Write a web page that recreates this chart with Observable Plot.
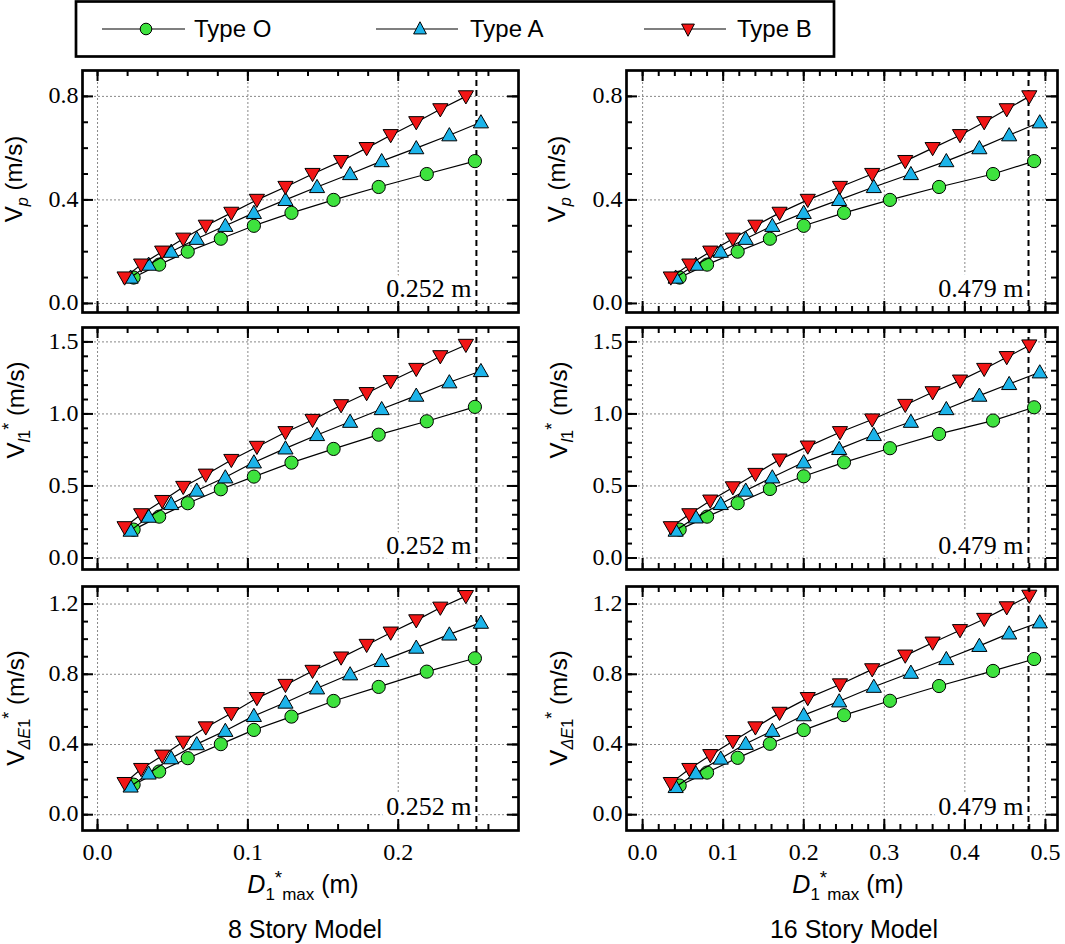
<!DOCTYPE html>
<html><head><meta charset="utf-8">
<script src="https://cdn.jsdelivr.net/npm/d3@7"></script>
<script src="https://cdn.jsdelivr.net/npm/@observablehq/plot@0.6"></script>
<style>
body{margin:0;background:#fff;}
#fig{position:relative;width:1065px;height:944px;overflow:hidden;}
#fig svg{position:absolute;background:transparent !important;}
.tt{position:absolute;white-space:nowrap;font-family:"Liberation Sans",Arial,sans-serif;font-size:24px;color:#000;line-height:1;}
.yt{transform:translate(-50%,-50%) rotate(-90deg);}
.xt{transform:translate(-50%,-50%);font-size:25px;}
.tt sub{font-size:0.68em;vertical-align:-0.4em;}
.tt sup{font-size:0.75em;vertical-align:0.5em;}
</style></head>
<body><div id="fig"></div>
<script>
// ---------- data ----------
const seriesNames = ["Type O", "Type A", "Type B"];
const seriesColors = ["#3ee23e", "#1cb4ea", "#f21616"];
const models = ["8 Story Model", "16 Story Model"];
const limitValues = [0.252, 0.479];
const limitLabels = ["0.252 m", "0.479 m"];

// 8 story: x (D1*max)
const x8O = [0.024, 0.041, 0.060, 0.082, 0.104, 0.129, 0.157, 0.187, 0.219, 0.251];
const x8A = [0.022, 0.034, 0.049, 0.066, 0.085, 0.104, 0.125, 0.146, 0.168, 0.189, 0.212, 0.234, 0.255];
const x8B = [0.018, 0.029, 0.043, 0.057, 0.072, 0.089, 0.106, 0.125, 0.143, 0.162, 0.179, 0.195, 0.212, 0.228, 0.245];
// 8 story: Vp
const vp8O = [0.10, 0.15, 0.20, 0.25, 0.30, 0.35, 0.40, 0.45, 0.50, 0.55];
const vp8A = [0.10, 0.15, 0.20, 0.25, 0.30, 0.35, 0.40, 0.45, 0.50, 0.55, 0.60, 0.65, 0.70];
const vp8B = [0.10, 0.15, 0.20, 0.25, 0.30, 0.35, 0.40, 0.45, 0.50, 0.55, 0.60, 0.65, 0.70, 0.75, 0.80];
// 8 story: Vl1*
const vl8O = [0.197, 0.287, 0.380, 0.477, 0.565, 0.662, 0.757, 0.856, 0.949, 1.049];
const vl8A = [0.190, 0.287, 0.375, 0.468, 0.560, 0.664, 0.761, 0.854, 0.946, 1.034, 1.127, 1.220, 1.298];
const vl8B = [0.213, 0.303, 0.395, 0.493, 0.578, 0.680, 0.771, 0.873, 0.958, 1.060, 1.144, 1.227, 1.312, 1.400, 1.479];
// 8 story: VdE1*
const ve8O = [0.171, 0.246, 0.322, 0.402, 0.483, 0.559, 0.648, 0.728, 0.815, 0.891];
const ve8A = [0.161, 0.235, 0.322, 0.402, 0.478, 0.563, 0.639, 0.720, 0.800, 0.876, 0.952, 1.027, 1.094];
const ve8B = [0.180, 0.260, 0.336, 0.415, 0.497, 0.578, 0.664, 0.739, 0.819, 0.895, 0.967, 1.037, 1.107, 1.179, 1.245];

// 16 story: x
const x16O = [0.046, 0.080, 0.118, 0.158, 0.200, 0.250, 0.307, 0.368, 0.435, 0.486];
const x16A = [0.041, 0.066, 0.097, 0.128, 0.161, 0.200, 0.244, 0.287, 0.333, 0.377, 0.418, 0.455, 0.493];
const x16B = [0.035, 0.058, 0.084, 0.112, 0.140, 0.170, 0.205, 0.245, 0.285, 0.326, 0.360, 0.394, 0.424, 0.452, 0.480];
// 16 story: Vp
const vp16O = [0.10, 0.15, 0.20, 0.25, 0.30, 0.35, 0.40, 0.45, 0.50, 0.55];
const vp16A = [0.10, 0.15, 0.20, 0.25, 0.30, 0.35, 0.40, 0.45, 0.50, 0.55, 0.60, 0.65, 0.70];
const vp16B = [0.10, 0.15, 0.20, 0.25, 0.30, 0.35, 0.40, 0.45, 0.50, 0.55, 0.60, 0.65, 0.70, 0.75, 0.80];
// 16 story: Vl1*
const vl16O = [0.197, 0.287, 0.380, 0.479, 0.567, 0.664, 0.762, 0.861, 0.954, 1.046];
const vl16A = [0.190, 0.282, 0.375, 0.468, 0.560, 0.664, 0.757, 0.854, 0.946, 1.034, 1.127, 1.208, 1.289];
const vl16B = [0.213, 0.303, 0.398, 0.490, 0.583, 0.683, 0.773, 0.873, 0.961, 1.062, 1.150, 1.231, 1.312, 1.394, 1.475];
// 16 story: VdE1*
const ve16O = [0.166, 0.240, 0.324, 0.404, 0.482, 0.567, 0.649, 0.733, 0.819, 0.887];
const ve16A = [0.158, 0.236, 0.320, 0.404, 0.478, 0.567, 0.646, 0.729, 0.809, 0.887, 0.962, 1.033, 1.096];
const ve16B = [0.180, 0.260, 0.339, 0.419, 0.497, 0.580, 0.664, 0.742, 0.828, 0.906, 0.980, 1.051, 1.115, 1.181, 1.247];

// ticks
const xMajor8 = [0.0, 0.1, 0.2];
const xMajor16 = [0.0, 0.1, 0.2, 0.3, 0.4, 0.5];
const yMajorVp = [0.0, 0.4, 0.8];
const yMajorVl = [0.0, 0.5, 1.0, 1.5];
const yMajorVe = [0.0, 0.4, 0.8, 1.2];
const xMinor8 = d3.range(0, 0.27, 0.02);
const xMinor16 = d3.range(0, 0.501, 0.02);
const yMinorVp = d3.range(0, 0.85, 0.1);
const yMinorVl = d3.range(0, 1.55, 0.1);
const yMinorVe = d3.range(0, 1.25, 0.1);

// ---------- layout ----------
const colLeft = [82, 626], colW = [436, 431];
const rowTop = [70, 327, 586], rowH = [242, 242, 244];
const xDomains = [[-0.01, 0.28], [-0.02, 0.515]];
const yDomains = [[-0.035, 0.9], [-0.08, 1.6], [-0.09, 1.3]];

const xs = [[x8O, x8A, x8B], [x16O, x16A, x16B]];
const ys = [
  [[vp8O, vp8A, vp8B], [vl8O, vl8A, vl8B], [ve8O, ve8A, ve8B]],
  [[vp16O, vp16A, vp16B], [vl16O, vl16A, vl16B], [ve16O, ve16A, ve16B]]
];
const xMajors = [xMajor8, xMajor16], xMinors = [xMinor8, xMinor16];
const yMajors = [yMajorVp, yMajorVl, yMajorVe], yMinors = [yMinorVp, yMinorVl, yMinorVe];

const triUp = {draw(c, size){ const r = Math.sqrt(size/Math.PI); c.moveTo(0, -r*1.15); c.lineTo(r*1.15, r*0.85); c.lineTo(-r*1.15, r*0.85); c.closePath(); }};
const triDown = {draw(c, size){ const r = Math.sqrt(size/Math.PI); c.moveTo(0, r*1.15); c.lineTo(r*1.15, -r*0.85); c.lineTo(-r*1.15, -r*0.85); c.closePath(); }};
const symbols = ["circle", triUp, triDown];
const fmt = d3.format(".1f");
const fig = document.getElementById("fig");

function panel(ci, ri) {
  const mL = 60, mR = 8, mT = 8, mB = ri === 2 ? 50 : 8;
  const w = colW[ci], h = rowH[ri];
  const marks = [
    Plot.ruleX(xMajors[ci], {x: d => d, stroke: "#888", strokeWidth: 1, strokeDasharray: "2,2"}),
    Plot.ruleY(yMajors[ri], {y: d => d, stroke: "#888", strokeWidth: 1, strokeDasharray: "2,2"}),
    Plot.text([limitLabels[ci]], {x: limitValues[ci], frameAnchor: "bottom", textAnchor: "end", lineAnchor: "bottom",
      dx: -5, dy: -16, text: d => d, fontFamily: "Liberation Serif", fontSize: 26, fill: "black",
      stroke: "white", strokeWidth: 12, strokeLinejoin: "round"}),
    Plot.ruleX([limitValues[ci]], {x: d => d, stroke: "black", strokeWidth: 2, strokeDasharray: "6,4"})
  ];
  for (let s = 0; s < 3; s++) {
    const data = xs[ci][s].map((x, i) => ({x, y: ys[ci][ri][s][i]}));
    marks.push(Plot.line(data, {x: "x", y: "y", stroke: "black", strokeWidth: 1.2}));
    marks.push(Plot.dot(data, {x: "x", y: "y", r: 6.6, symbol: symbols[s], fill: seriesColors[s], stroke: "black", strokeWidth: 1}));
  }
  // inward ticks on all sides
  const tk = {stroke: "black", strokeWidth: 2};
  marks.push(
    Plot.tickX(xMinors[ci], {x: d => d, insetTop: h - 6, ...tk}),
    Plot.tickX(xMinors[ci], {x: d => d, insetBottom: h - 6, ...tk}),
    Plot.tickX(xMajors[ci], {x: d => d, insetTop: h - 11, ...tk}),
    Plot.tickX(xMajors[ci], {x: d => d, insetBottom: h - 11, ...tk}),
    Plot.tickY(yMinors[ri], {y: d => d, insetRight: w - 6, ...tk}),
    Plot.tickY(yMinors[ri], {y: d => d, insetLeft: w - 6, ...tk}),
    Plot.tickY(yMajors[ri], {y: d => d, insetRight: w - 11, ...tk}),
    Plot.tickY(yMajors[ri], {y: d => d, insetLeft: w - 11, ...tk}),
    Plot.frame({stroke: "black", strokeWidth: 2.7}),
    Plot.text(yMajors[ri], {y: d => d, frameAnchor: "left", textAnchor: "end", dx: -4, dy: -1, text: d => fmt(d),
      fontFamily: "Liberation Serif", fontSize: 24, fill: "black"})
  );
  if (ri === 2) {
    marks.push(Plot.text(xMajors[ci], {x: d => d, frameAnchor: "bottom", lineAnchor: "top", dy: 12, text: d => fmt(d),
      fontFamily: "Liberation Serif", fontSize: 24, fill: "black"}));
  }
  const svg = Plot.plot({
    width: w + mL + mR, height: h + mT + mB,
    marginLeft: mL, marginRight: mR, marginTop: mT, marginBottom: mB,
    x: {domain: xDomains[ci], axis: null},
    y: {domain: yDomains[ri], axis: null},
    style: {fontFamily: "Liberation Serif", background: "transparent", overflow: "visible"},
    marks
  });
  svg.style.left = (colLeft[ci] - mL) + "px";
  svg.style.top = (rowTop[ri] - mT) + "px";
  fig.appendChild(svg);
}
for (let c = 0; c < 2; c++) for (let r = 0; r < 3; r++) panel(c, r);

// ---------- legend ----------
const NS = "http://www.w3.org/2000/svg";
const lg = document.createElementNS(NS, "svg");
lg.setAttribute("width", 1065); lg.setAttribute("height", 62);
lg.style.left = "0px"; lg.style.top = "0px";
const legendItems = [
  {x1: 102, x2: 185, mx: 146, tx: 194},
  {x1: 376, x2: 458, mx: 420, tx: 470},
  {x1: 644, x2: 726, mx: 688, tx: 737}
];
let html = `<rect x="76" y="1.5" width="758" height="55" fill="white" stroke="black" stroke-width="2.7"/>`;
const ly = 29;
legendItems.forEach((it, s) => {
  html += `<line x1="${it.x1}" x2="${it.x2}" y1="${ly}" y2="${ly}" stroke="black" stroke-width="1.2"/>`;
  const r = 5.8;
  let p;
  if (s === 0) p = `<circle cx="${it.mx}" cy="${ly}" r="${r}"`;
  else if (s === 1) p = `<path d="M${it.mx},${ly - r*1.25} L${it.mx + r*1.1},${ly + r*0.85} L${it.mx - r*1.1},${ly + r*0.85} Z"`;
  else p = `<path d="M${it.mx},${ly + r*1.25} L${it.mx + r*1.1},${ly - r*0.85} L${it.mx - r*1.1},${ly - r*0.85} Z"`;
  html += p + ` fill="${seriesColors[s]}" stroke="black" stroke-width="1"/>`;
  html += `<text x="${it.tx}" y="${ly}" dy="0.35em" font-family="Liberation Sans, Arial, sans-serif" font-size="24">${seriesNames[s]}</text>`;
});
lg.innerHTML = html;
fig.appendChild(lg);

// ---------- axis titles ----------
const yTitles = [
  `V<sub><i>p</i></sub> (m/s)`,
  `V<sub><i>l</i>1</sub><sup>*</sup> (m/s)`,
  `V<sub><i>ΔE</i>1</sub><sup>*</sup> (m/s)`
];
const yTitleCY = [179, 410, 708];
const yTitleCX = [16, 559];
const xTitleCX = [303, 848];
const subCX = [305, 854];
function addDiv(cls, html, x, y) {
  const d = document.createElement("div");
  d.className = cls; d.innerHTML = html;
  d.style.left = x + "px"; d.style.top = y + "px";
  fig.appendChild(d);
}
for (let c = 0; c < 2; c++) {
  for (let r = 0; r < 3; r++) addDiv("tt yt", yTitles[r], yTitleCX[c], yTitleCY[r]);
  addDiv("tt xt", `<i>D</i><sub>1</sub><sup>*</sup><sub>max</sub> (m)`, xTitleCX[c], 886);
  addDiv("tt xt", models[c], subCX[c], 929);
}
</script>
</body></html>
